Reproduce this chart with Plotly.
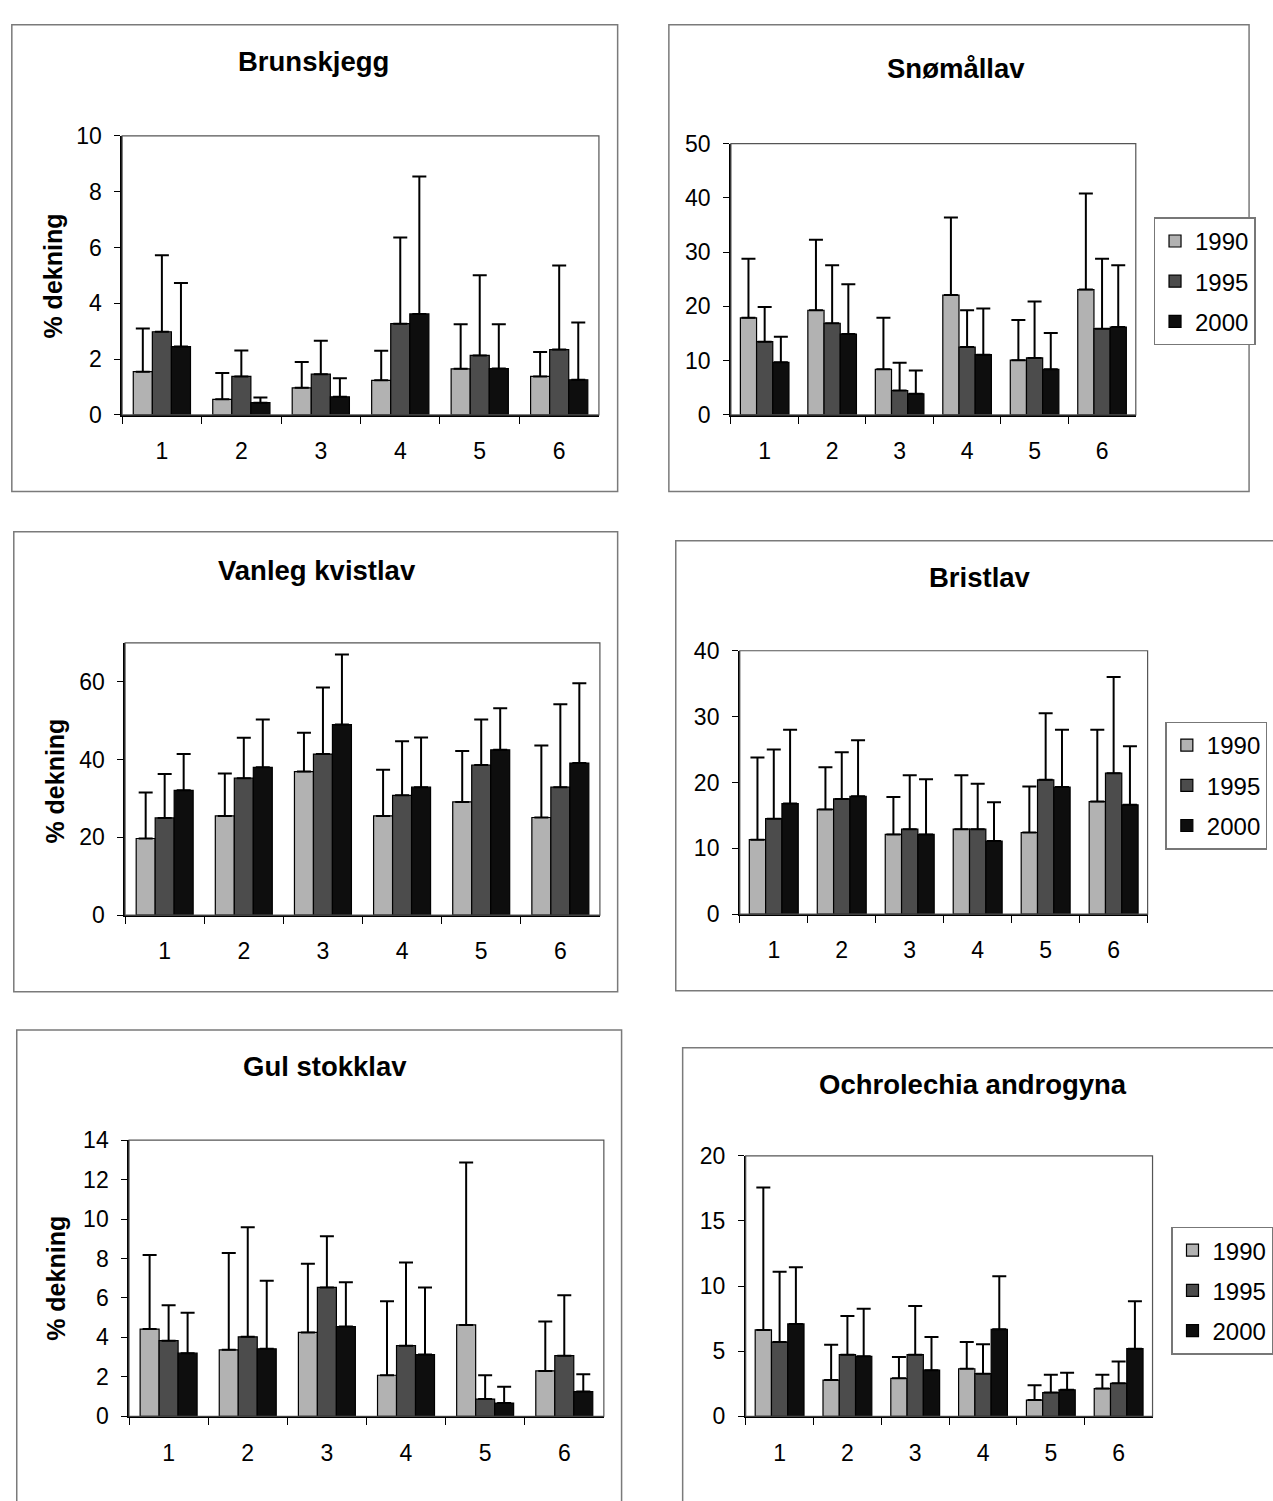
import plotly.graph_objects as go

W, H = 1273, 1501

categories = ["1", "2", "3", "4", "5", "6"]
years = ["1990", "1995", "2000"]

# ---- data: mean % cover and standard deviation (upper error bar) ----
brunskjegg_1990 = [1.55, 0.56, 0.97, 1.24, 1.65, 1.38]
brunskjegg_1995 = [2.98, 1.38, 1.46, 3.27, 2.13, 2.34]
brunskjegg_2000 = [2.45, 0.44, 0.65, 3.62, 1.66, 1.26]
brunskjegg_sd_1990 = [1.55, 0.94, 0.93, 1.06, 1.60, 0.87]
brunskjegg_sd_1995 = [2.74, 0.93, 1.20, 3.09, 2.87, 3.01]
brunskjegg_sd_2000 = [2.28, 0.18, 0.66, 4.92, 1.59, 2.05]

snomallav_1990 = [17.9, 19.3, 8.4, 22.1, 10.1, 23.1]
snomallav_1995 = [13.5, 16.9, 4.5, 12.5, 10.5, 15.9]
snomallav_2000 = [9.7, 14.9, 3.9, 11.1, 8.4, 16.2]
snomallav_sd_1990 = [10.9, 13.0, 9.5, 14.3, 7.4, 17.7]
snomallav_sd_1995 = [6.4, 10.7, 5.1, 6.8, 10.4, 12.9]
snomallav_sd_2000 = [4.7, 9.2, 4.3, 8.5, 6.7, 11.4]

kvistlav_1990 = [19.7, 25.5, 36.9, 25.5, 29.1, 25.1]
kvistlav_1995 = [25.0, 35.2, 41.4, 30.8, 38.6, 32.9]
kvistlav_2000 = [32.1, 38.0, 49.0, 32.9, 42.5, 39.1]
kvistlav_sd_1990 = [11.8, 10.9, 10.0, 11.9, 13.1, 18.5]
kvistlav_sd_1995 = [11.3, 10.4, 17.1, 13.9, 11.7, 21.3]
kvistlav_sd_2000 = [9.3, 12.3, 18.0, 12.8, 10.7, 20.5]

bristlav_1990 = [11.3, 15.9, 12.1, 12.9, 12.4, 17.1]
bristlav_1995 = [14.5, 17.5, 12.9, 12.9, 20.4, 21.4]
bristlav_2000 = [16.8, 17.9, 12.1, 11.1, 19.3, 16.6]
bristlav_sd_1990 = [12.5, 6.4, 5.7, 8.2, 7.0, 10.9]
bristlav_sd_1995 = [10.5, 7.1, 8.2, 6.9, 10.1, 14.6]
bristlav_sd_2000 = [11.2, 8.5, 8.4, 5.9, 8.7, 8.9]

stokklav_1990 = [4.42, 3.37, 4.25, 2.08, 4.63, 2.30]
stokklav_1995 = [3.83, 4.03, 6.53, 3.58, 0.87, 3.07]
stokklav_2000 = [3.20, 3.42, 4.55, 3.13, 0.67, 1.25]
stokklav_sd_1990 = [3.75, 4.91, 3.48, 3.75, 8.24, 2.50]
stokklav_sd_1995 = [1.80, 5.55, 2.60, 4.22, 1.21, 3.06]
stokklav_sd_2000 = [2.05, 3.45, 2.25, 3.40, 0.83, 0.88]

ochrolechia_1990 = [6.63, 2.78, 2.91, 3.65, 1.24, 2.13]
ochrolechia_1995 = [5.70, 4.73, 4.73, 3.27, 1.82, 2.53]
ochrolechia_2000 = [7.09, 4.60, 3.54, 6.68, 2.03, 5.19]
ochrolechia_sd_1990 = [10.94, 2.71, 1.65, 2.05, 1.14, 1.06]
ochrolechia_sd_1995 = [5.40, 2.97, 3.73, 2.27, 1.37, 1.67]
ochrolechia_sd_2000 = [4.35, 3.65, 2.54, 4.08, 1.31, 3.65]

titles = ["Brunskjegg", "Snømållav", "Vanleg kvistlav", "Bristlav",
          "Gul stokklav", "Ochrolechia androgyna"]
y_title = "% dekning"

# ---- layout (pixel geometry in picture coordinates) ----
panels = [
    dict(means=[brunskjegg_1990, brunskjegg_1995, brunskjegg_2000],
         sds=[brunskjegg_sd_1990, brunskjegg_sd_1995, brunskjegg_sd_2000],
         ymax=10, dtick=2, plot=(124, 608, 125, 409), box=(12, 627, 12, 487),
         tpos=(318, 49), ytpos=(54, 268), legend=None),
    dict(means=[snomallav_1990, snomallav_1995, snomallav_2000],
         sds=[snomallav_sd_1990, snomallav_sd_1995, snomallav_sd_2000],
         ymax=50, dtick=10, plot=(742, 1153, 133, 409), box=(679, 1268, 12, 487),
         tpos=(970, 56), ytpos=None, legend=("legend", 1171, 208)),
    dict(means=[kvistlav_1990, kvistlav_1995, kvistlav_2000],
         sds=[kvistlav_sd_1990, kvistlav_sd_1995, kvistlav_sd_2000],
         ymax=70, dtick=20, plot=(127, 609, 641, 918), box=(14, 627, 528, 996),
         tpos=(322, 567), ytpos=(56, 782), legend=None),
    dict(means=[bristlav_1990, bristlav_1995, bristlav_2000],
         sds=[bristlav_sd_1990, bristlav_sd_1995, bristlav_sd_2000],
         ymax=40, dtick=10, plot=(751, 1165, 649, 917), box=(686, 1300, 537, 995),
         tpos=(995, 574), ytpos=None, legend=("legend2", 1183, 721)),
    dict(means=[stokklav_1990, stokklav_1995, stokklav_2000],
         sds=[stokklav_sd_1990, stokklav_sd_1995, stokklav_sd_2000],
         ymax=14, dtick=2, plot=(131, 613, 1147, 1428), box=(17, 631, 1035, 1560),
         tpos=(330, 1072), ytpos=(57, 1288), legend=None),
    dict(means=[ochrolechia_1990, ochrolechia_1995, ochrolechia_2000],
         sds=[ochrolechia_sd_1990, ochrolechia_sd_1995, ochrolechia_sd_2000],
         ymax=20, dtick=5, plot=(757, 1170, 1163, 1428), box=(693, 1300, 1053, 1560),
         tpos=(988, 1090), ytpos=None, legend=("legend3", 1189, 1235)),
]

colors = ["#b2b2b2", "#4c4c4c", "#0e0e0e"]
FONT = "Liberation Sans, Arial, sans-serif"


def px_x(v):
    return v / W


def px_y(v):
    return 1 - v / H


fig = go.Figure()
layout = dict(width=W, height=H, margin=dict(l=0, r=0, t=0, b=0),
              paper_bgcolor="white", plot_bgcolor="white",
              bargap=0.28, bargroupgap=0, barmode="group",
              font=dict(family=FONT, color="black"),
              showlegend=True)
shapes = []
annotations = []

for i, p in enumerate(panels):
    n = i + 1
    xa = "x" if n == 1 else f"x{n}"
    ya = "y" if n == 1 else f"y{n}"
    xk = "xaxis" if n == 1 else f"xaxis{n}"
    yk = "yaxis" if n == 1 else f"yaxis{n}"
    l, r, t, b = p["plot"]
    leg = p["legend"]
    for j, yr in enumerate(years):
        fig.add_trace(go.Bar(
            x=categories, y=p["means"][j], name=yr,
            xaxis=xa, yaxis=ya,
            marker=dict(color=colors[j], line=dict(color="black", width=1.2)),
            error_y=dict(type="data", symmetric=False, array=p["sds"][j],
                         arrayminus=[0] * len(categories),
                         color="black", thickness=2, width=7),
            showlegend=leg is not None,
            legend=leg[0] if leg else "legend",
            legendgroup=f"p{n}_{yr}",
        ))
    layout[xk] = dict(domain=[px_x(l), px_x(r)], anchor=ya, type="category",
                      showline=True, linecolor="black", linewidth=1.5,
                      ticks="outside", tickson="boundaries", ticklen=7,
                      tickcolor="black", tickwidth=1.2,
                      showgrid=False, zeroline=False,
                      tickfont=dict(size=23, family=FONT),
                      ticklabelstandoff=15)
    layout[yk] = dict(domain=[px_y(b), px_y(t)], anchor=xa,
                      range=[0, p["ymax"]], dtick=p["dtick"],
                      showline=True, linecolor="black", linewidth=1.5,
                      ticks="outside", ticklen=6, tickcolor="black",
                      tickwidth=1.2, showgrid=False, zeroline=False,
                      tickfont=dict(size=23, family=FONT),
                      ticklabelstandoff=8)
    shapes.append(dict(type="rect", xref=f"{xa} domain", yref=f"{ya} domain",
                       x0=0, x1=1, y0=0, y1=1,
                       line=dict(color="#555555", width=1.2), layer="above"))
    bl, br, bt, bb = p["box"]
    shapes.append(dict(type="rect", xref="paper", yref="paper",
                       x0=px_x(bl), x1=px_x(br), y0=px_y(bb), y1=px_y(bt),
                       line=dict(color="#7a7a7a", width=1.5)))
    annotations.append(dict(text=f"<b>{titles[i]}</b>", xref="paper", yref="paper",
                            x=px_x(p["tpos"][0]), y=px_y(p["tpos"][1]),
                            xanchor="center", yanchor="middle", showarrow=False,
                            font=dict(size=27.5, family=FONT, color="black")))
    if p["ytpos"]:
        annotations.append(dict(text=f"<b>{y_title}</b>", xref="paper", yref="paper",
                                x=px_x(p["ytpos"][0]), y=px_y(p["ytpos"][1]),
                                xanchor="center", yanchor="middle", showarrow=False,
                                textangle=-90,
                                font=dict(size=25, family=FONT, color="black")))
    if leg:
        layout[leg[0]] = dict(x=px_x(leg[1]), y=px_y(leg[2]),
                              xanchor="left", yanchor="top",
                              bgcolor="white", bordercolor="#777777",
                              borderwidth=1.5, tracegroupgap=6,
                              font=dict(size=24, family=FONT, color="black"),
                              itemwidth=30)

layout["shapes"] = shapes
layout["annotations"] = annotations
fig.update_layout(**layout)
fig.write_html("out.html",
               post_script="document.body.style.margin='0';"
                           "document.documentElement.style.overflow='hidden';")
